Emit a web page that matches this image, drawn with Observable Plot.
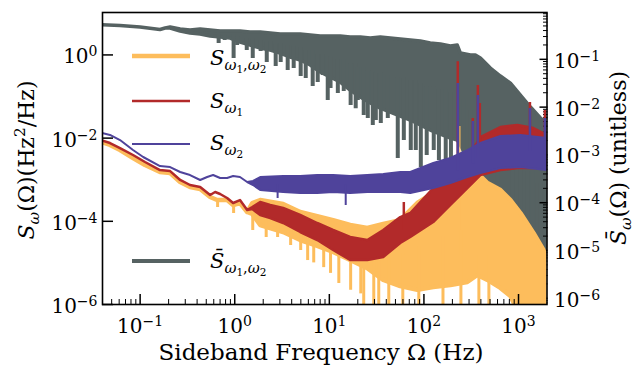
<!DOCTYPE html>
<html>
<head>
<meta charset="utf-8">
<script src="https://cdn.jsdelivr.net/npm/d3@7"></script>
<script src="https://cdn.jsdelivr.net/npm/@observablehq/plot@0.6"></script>
<style>
  body { margin: 0; background: #fff; }
  #chart { position: relative; width: 637px; height: 373px; font-family: "DejaVu Serif", serif; }
  #chart svg { position: absolute; left: 0; top: 0; }
</style>
</head>
<body>
<div id="chart"></div>
<script>
// ---------------------------------------------------------------------------
// Sideband spectra. Noisy traces are stored as upper / lower envelopes on a
// frequency grid (Hz), plus isolated dips and spikes reaching past the band.
// ---------------------------------------------------------------------------

// Mean two-detuning spectrum S̄ (right axis, unitless)
const barFreq  = [0.040, 0.062, 0.101, 0.164, 0.186, 0.210, 0.268, 0.341, 0.436, 0.556, 0.709, 0.905, 1.15, 1.47, 1.88, 2.40, 3.06, 3.90, 4.98, 6.36, 8.11, 10.3, 13.2, 16.8, 21.5, 27.4, 35.0, 44.6, 56.9, 72.6, 92.7, 118, 151, 193, 228, 246, 314, 354, 400, 510, 651, 831, 1060, 1353, 1726, 2000];
const barUpper = [0.516, 0.497, 0.462, 0.410, 0.441, 0.462, 0.420, 0.400, 0.420, 0.400, 0.381, 0.381, 0.381, 0.363, 0.363, 0.346, 0.330, 0.330, 0.330, 0.315, 0.300, 0.300, 0.300, 0.286, 0.286, 0.272, 0.286, 0.272, 0.260, 0.247, 0.236, 0.214, 0.204, 0.185, 0.194, 0.132, 0.120, 0.120, 0.104, 0.0641, 0.0437, 0.0311, 0.0175, 0.0098, 0.00577, 0.00454];
const barLower = [0.516, 0.497, 0.462, 0.410, 0.441, 0.441, 0.381, 0.346, 0.330, 0.300, 0.286, 0.272, 0.224, 0.194, 0.168, 0.153, 0.132, 0.109, 0.0944, 0.0741, 0.053, 0.0416, 0.0327, 0.0222, 0.0159, 0.0119, 0.0093, 0.0077, 0.00635, 0.00524, 0.00412, 0.00324, 0.00267, 0.0022, 0.0020, 0.00157, 0.0006, 0.00037, 0.00025, 0.000141, 0.000101, 0.000076, 0.000038, 0.0000206, 0.000011, 0.0000079];
const barDipFreq  = [0.676, 0.782, 0.973, 1.06, 1.34, 1.55, 1.88, 2.18, 2.40, 2.71, 3.06, 3.63, 4.20, 4.98, 5.63, 6.67, 7.54, 8.51, 9.62, 10.3, 12.3, 14.2, 16.8, 19.0, 20.0, 23.1, 25.5, 28.8, 31.0, 35.0, 41.5, 52.9, 61.3, 72.6, 82.0, 92.7, 107, 127, 144, 170, 193, 264, 314, 475, 605, 872, 1060, 1258, 1420, 1604, 1726, 1949];
const barDipValue = [0.214, 0.247, 0.104, 0.194, 0.153, 0.104, 0.146, 0.0857, 0.146, 0.0706, 0.0857, 0.0582, 0.0641, 0.0437, 0.0396, 0.027, 0.0327, 0.0458, 0.0137, 0.0245, 0.0192, 0.0212, 0.0108, 0.0093, 0.0137, 0.00667, 0.00577, 0.00412, 0.00524, 0.00454, 0.00577, 0.00084, 0.0020, 0.00124, 0.00124, 0.000545, 0.00097, 0.00124, 0.00076, 0.00069, 0.00043, 0.000128, 0.00018, 0.000111, 0.000069, 0.000042, 0.000026, 0.0000127, 0.00001, 0.0000079, 0.0000071, 0.0000056];

// Joint spectrum S_{ω1,ω2} (left axis, Hz²/Hz)
const jointFreq  = [0.040, 0.0486, 0.062, 0.0851, 0.114, 0.164, 0.210, 0.268, 0.341, 0.436, 0.556, 0.659, 0.841, 0.973, 1.15, 1.37, 1.55, 1.88, 3.29, 4.98, 7.54, 11.1, 16.8, 25.5, 37.6, 56.9, 86.1, 127, 193, 291, 372, 475, 651, 831, 1060, 1455, 1857, 2000];
const jointUpper = [0.00783, 0.00664, 0.00503, 0.00324, 0.00219, 0.00149, 0.00141, 0.000857, 0.00065, 0.00058, 0.000373, 0.000316, 0.000316, 0.00024, 0.000268, 0.000163, 0.000268, 0.000316, 0.000254, 0.000163, 0.00013, 0.000104, 0.0000792, 0.0000671, 0.0000837, 0.000104, 0.000268, 0.000466, 0.00065, 0.00107, 0.00141, 0.000811, 0.00055, 0.000316, 0.000154, 0.0000509, 0.0000199, 0.0000114];
const jointLower = [0.00783, 0.00664, 0.00503, 0.00324, 0.00219, 0.00149, 0.00141, 0.000857, 0.00065, 0.00058, 0.000373, 0.000316, 0.000316, 0.00024, 0.000268, 0.000163, 0.000146, 0.0000792, 0.0000538, 0.0000345, 0.0000248, 0.0000178, 0.0000114, 0.0000073, 0.0000038, 0.0000027, 0.0000022, 0.00000256, 0.00000286, 0.00000338, 0.00000498, 0.0000038, 0.00000243, 0.00000156, 5e-7, 5e-7, 5e-7, 5e-7];
const jointDipFreq  = [0.659, 0.973, 1.55, 2.15, 2.84, 3.90, 4.98, 5.90, 6.84, 8.72, 10.3, 12.6, 16.8, 21.5, 23.1, 29.5, 33.3, 42.5, 59.8, 88.3, 159, 246, 381, 486];
const jointDipValue = [0.000215, 0.000154, 0.0000601, 0.0000408, 0.0000408, 0.0000262, 0.0000199, 0.0000114, 0.00001, 0.0000077, 0.0000056, 0.0000032, 0.0000022, 0.0000018, 5e-7, 5e-7, 5e-7, 5e-7, 5e-7, 5e-7, 5e-7, 5e-7, 5e-7, 5e-7];
const jointSpikeFreq  = [240];
const jointSpikeValue = [0.019];

// Single-detuning spectrum S_{ω1}
const s1Freq  = [0.040, 0.0486, 0.062, 0.0851, 0.114, 0.164, 0.210, 0.268, 0.341, 0.436, 0.556, 0.628, 0.709, 0.841, 0.973, 1.15, 1.37, 1.55, 1.88, 2.40, 3.29, 4.98, 7.54, 11.1, 16.8, 25.5, 37.6, 56.9, 72.6, 127, 193, 264, 400, 651, 985, 1455, 2000];
const s1Upper = [0.00851, 0.00741, 0.00562, 0.00382, 0.00259, 0.00166, 0.00157, 0.000958, 0.000726, 0.00065, 0.000417, 0.000492, 0.000441, 0.000353, 0.000268, 0.000316, 0.000182, 0.000215, 0.000283, 0.00024, 0.000203, 0.000138, 0.0000885, 0.0000601, 0.0000408, 0.0000345, 0.0000601, 0.000123, 0.000154, 0.000614, 0.00126, 0.00219, 0.0103, 0.018, 0.0201, 0.017, 0.0116];
const s1Lower = [0.00851, 0.00741, 0.00562, 0.00382, 0.00259, 0.00166, 0.00157, 0.000958, 0.000726, 0.00065, 0.000417, 0.000492, 0.000441, 0.000353, 0.000268, 0.000316, 0.000182, 0.000192, 0.000138, 0.000117, 0.0000885, 0.0000538, 0.0000345, 0.0000199, 0.0000114, 0.0000114, 0.0000135, 0.0000292, 0.0000408, 0.0000935, 0.00024, 0.000492, 0.00126, 0.00166, 0.00186, 0.00186, 0.00186];
const s1SpikeFreq  = [61.3, 228, 329, 372, 390, 1320, 1900];
const s1SpikeValue = [0.000283, 0.69, 0.0296, 0.184, 0.0679, 0.0718, 0.046];

// Single-detuning spectrum S_{ω2}
const s2Freq  = [0.040, 0.0486, 0.062, 0.0851, 0.109, 0.164, 0.210, 0.268, 0.341, 0.436, 0.517, 0.598, 0.709, 0.841, 0.973, 1.15, 1.37, 1.58, 1.88, 3.29, 4.98, 7.54, 11.1, 16.8, 25.5, 37.6, 56.9, 72.6, 127, 193, 291, 400, 651, 1060, 2000];
const s2Upper = [0.0129, 0.0116, 0.00875, 0.00503, 0.00342, 0.00207, 0.00196, 0.00149, 0.00126, 0.000958, 0.00113, 0.00126, 0.00107, 0.00107, 0.00119, 0.00113, 0.000857, 0.000906, 0.00113, 0.00119, 0.00119, 0.00126, 0.00126, 0.00119, 0.00126, 0.00133, 0.00149, 0.00149, 0.00245, 0.00324, 0.00503, 0.00741, 0.0109, 0.0116, 0.00977];
const s2Lower = [0.0129, 0.0116, 0.00875, 0.00503, 0.00342, 0.00207, 0.00196, 0.00149, 0.00126, 0.000958, 0.00113, 0.00126, 0.00107, 0.00107, 0.00119, 0.00113, 0.000857, 0.000726, 0.00055, 0.000492, 0.000466, 0.000466, 0.000492, 0.000466, 0.000492, 0.000492, 0.000492, 0.000466, 0.000614, 0.000811, 0.00113, 0.00141, 0.00186, 0.00196, 0.00166];
const s2DipFreq  = [2.84, 14.9];
const s2DipValue = [0.000353, 0.00024];
const s2SpikeFreq  = [228, 329, 372, 1320, 1900];
const s2SpikeValue = [0.206, 0.0251, 0.106, 0.0515, 0.0296];

// Axis ticks
const xMajorTicks = [0.1, 1, 10, 100, 1000];
const xMinorTicks = [0.01, 0.1, 1, 10, 100].flatMap(d => [2, 3, 4, 5, 6, 7, 8, 9].map(k => k * d)).filter(v => v >= 0.04 && v < 2000);
const leftTicks = [1e-6, 1e-4, 1e-2, 1];
const rightMajorTicks = [1e-6, 1e-5, 1e-4, 1e-3, 1e-2, 1e-1];
const rightMinorTicks = [1e-7, 1e-6, 1e-5, 1e-4, 1e-3, 1e-2, 1e-1].flatMap(d => [2, 3, 4, 5, 6, 7, 8, 9].map(k => k * d)).filter(v => v > 7.5e-7 && v < 0.95);

// Colours
const GRAY = "#566262", YELLOW = "#fdbd5c", RED = "#b22a2a", BLUE = "#4f439b";

// Layout
const W = 637, H = 373;
const margins = {marginTop: 12, marginRight: 90.5, marginBottom: 69, marginLeft: 102};
const xDomain = [0.04, 2000];
const FONT = "DejaVu Serif";

// ---------------------------------------------------------------------------
const band = (freq, upper, lower) => freq.map((f, i) => ({f, hi: upper[i], lo: lower[i]}));
// Rules for dips / spikes start inside the band at the nearest grid point.
function excursions(freq, upper, lower, at, value) {
  return at.map((f, i) => {
    const j = d3.minIndex(freq, g => Math.abs(Math.log(g / f)));
    return {f, from: Math.sqrt(upper[j] * lower[j]), to: value[i]};
  });
}
const powerLabel = d => "10^" + String(Math.round(Math.log10(d))).replace("-", "\u2212");
const blank = () => "";

function raiseExponents(svg, supSize, lift) {
  d3.select(svg).selectAll("text").each(function () {
    let el = this;
    while (el.firstElementChild) el = el.firstElementChild;
    const m = /^10\^(.+)$/.exec(el.textContent);
    if (!m) return;
    el.textContent = "";
    const s = d3.select(el);
    s.append("tspan").text("10");
    s.append("tspan").attr("dy", -lift).attr("font-size", supSize).text(m[1]);
  });
}

// Mixed-size math text (sub/superscripts) drawn into an svg selection
function mathText(sel, x, y, parts, {size = 20, anchor = "start", rotate = 0} = {}) {
  const t = sel.append("text")
    .attr("transform", `translate(${x},${y})` + (rotate ? ` rotate(${rotate})` : ""))
    .attr("text-anchor", anchor)
    .attr("font-family", FONT)
    .attr("font-size", size)
    .attr("fill", "black");
  const lift = {base: 0, sup: -0.4, sub: 0.24, subsub: 0.4};
  const scale = {base: 1, sup: 0.7, sub: 0.7, subsub: 0.5};
  let cur = 0;
  for (const [text, lv = "base", italic = false] of parts) {
    const off = lift[lv] * size;
    t.append("tspan")
      .attr("dy", off - cur)
      .attr("font-size", size * scale[lv])
      .attr("font-style", italic ? "italic" : null)
      .text(text);
    cur = off;
  }
  return t;
}

// ---------------------------------------------------------------------------
// Back layer: S̄ on its own (right) logarithmic axis
const barPlot = Plot.plot({
  width: W, height: H, ...margins,
  style: {background: "transparent", fontFamily: FONT, fontSize: "20px", color: "black", overflow: "visible"},
  x: {type: "log", domain: xDomain, axis: null},
  y: {type: "log", domain: [10 ** -6.13, 10 ** -0.02], label: null},
  marks: [
    Plot.areaY(band(barFreq, barUpper, barLower), {x: "f", y1: "lo", y2: "hi", fill: GRAY, stroke: GRAY, strokeWidth: 3.5, strokeLinejoin: "round", clip: true}),
    Plot.ruleX(excursions(barFreq, barUpper, barLower, barDipFreq, barDipValue), {x: "f", y1: "from", y2: "to", stroke: GRAY, strokeWidth: 4, clip: true}),
    Plot.axisY({anchor: "right", ticks: rightMajorTicks, tickSize: -8, tickFormat: blank, strokeWidth: 1.5, label: null}),
    Plot.axisY({anchor: "right", ticks: rightMinorTicks, tickSize: -4.5, tickFormat: blank, strokeWidth: 1, label: null}),
    Plot.axisY({anchor: "right", ticks: rightMajorTicks, tickSize: 0, tickPadding: 7, tickFormat: powerLabel, fontSize: 20, dy: 2, label: null})
  ]
});

// Front layer: S_{ω1,ω2}, S_{ω1}, S_{ω2} on the left axis, with frame and x axis
const mainPlot = Plot.plot({
  width: W, height: H, ...margins,
  style: {background: "transparent", fontFamily: FONT, fontSize: "20px", color: "black", overflow: "visible"},
  x: {type: "log", domain: xDomain, label: null},
  y: {type: "log", domain: [1e-6, 10 ** 1.02], label: null},
  marks: [
    Plot.areaY(band(jointFreq, jointUpper, jointLower), {x: "f", y1: "lo", y2: "hi", fill: YELLOW, stroke: YELLOW, strokeWidth: 4.5, strokeLinejoin: "round", clip: true}),
    Plot.ruleX(excursions(jointFreq, jointUpper, jointLower, jointDipFreq, jointDipValue), {x: "f", y1: "from", y2: "to", stroke: YELLOW, strokeWidth: 3, clip: true}),
    Plot.ruleX(excursions(jointFreq, jointUpper, jointLower, jointSpikeFreq, jointSpikeValue), {x: "f", y1: "from", y2: "to", stroke: YELLOW, strokeWidth: 1.2, clip: true}),
    Plot.areaY(band(s1Freq, s1Upper, s1Lower), {x: "f", y1: "lo", y2: "hi", fill: RED, stroke: RED, strokeWidth: 2.5, strokeLinejoin: "round", clip: true}),
    Plot.ruleX(excursions(s1Freq, s1Upper, s1Lower, s1SpikeFreq, s1SpikeValue), {x: "f", y1: "from", y2: "to", stroke: RED, strokeWidth: 2.5, clip: true}),
    Plot.areaY(band(s2Freq, s2Upper, s2Lower), {x: "f", y1: "lo", y2: "hi", fill: BLUE, stroke: BLUE, strokeWidth: 2, strokeLinejoin: "round", clip: true}),
    Plot.ruleX(excursions(s2Freq, s2Upper, s2Lower, s2DipFreq, s2DipValue), {x: "f", y1: "from", y2: "to", stroke: BLUE, strokeWidth: 2, clip: true}),
    Plot.ruleX(excursions(s2Freq, s2Upper, s2Lower, s2SpikeFreq, s2SpikeValue), {x: "f", y1: "from", y2: "to", stroke: BLUE, strokeWidth: 2.5, clip: true}),
    Plot.frame({stroke: "black", strokeWidth: 1.6}),
    Plot.axisX({ticks: xMajorTicks, tickSize: -10, tickFormat: blank, strokeWidth: 1.5, label: null}),
    Plot.axisX({ticks: xMinorTicks, tickSize: -5, tickFormat: blank, strokeWidth: 1, label: null}),
    Plot.axisX({ticks: xMajorTicks, tickSize: 0, tickPadding: 14, tickFormat: powerLabel, fontSize: 20, label: null}),
    Plot.axisY({ticks: leftTicks, tickSize: -11, tickFormat: blank, strokeWidth: 1.5, label: null}),
    Plot.axisY({ticks: leftTicks, tickSize: 0, tickPadding: 5, tickFormat: powerLabel, fontSize: 20, dy: 2, label: null})
  ]
});

raiseExponents(barPlot, 14, 7);
raiseExponents(mainPlot, 14, 7);

const svg = d3.select(mainPlot);

// Axis titles
mathText(svg, 321, 360, [["Sideband Frequency \u03A9 (Hz)"]], {size: 23, anchor: "middle"});
mathText(svg, 34, 160, [["S", "base", true], ["\u03C9", "sub", true], ["(\u03A9)(Hz"], ["2", "sup"], ["/Hz)"]], {size: 22, anchor: "middle", rotate: -90});
mathText(svg, 626, 158, [["S\u0304", "base", true], ["\u03C9", "sub", true], ["(\u03A9) (unitless)"]], {size: 22, anchor: "middle", rotate: -90});

// Legend
const legend = [
  {color: YELLOW, width: 4.5, y: 56, base: 65, parts: [["S", "base", true], ["\u03C9", "sub", true], ["1", "subsub"], [",", "sub"], ["\u03C9", "sub", true], ["2", "subsub"]]},
  {color: RED, width: 2.5, y: 101, base: 108, parts: [["S", "base", true], ["\u03C9", "sub", true], ["1", "subsub"]]},
  {color: BLUE, width: 2, y: 144, base: 150, parts: [["S", "base", true], ["\u03C9", "sub", true], ["2", "subsub"]]},
  {color: GRAY, width: 4, y: 261, base: 268, parts: [["S\u0304", "base", true], ["\u03C9", "sub", true], ["1", "subsub"], [",", "sub"], ["\u03C9", "sub", true], ["2", "subsub"]]}
];
const lg = svg.append("g");
for (const item of legend) {
  lg.append("line").attr("x1", 132).attr("x2", 190).attr("y1", item.y).attr("y2", item.y)
    .attr("stroke", item.color).attr("stroke-width", item.width);
  mathText(lg, 210, item.base, item.parts, {size: 21});
}

const root = document.getElementById("chart");
root.append(barPlot);
root.append(mainPlot);
</script>
</body>
</html>
